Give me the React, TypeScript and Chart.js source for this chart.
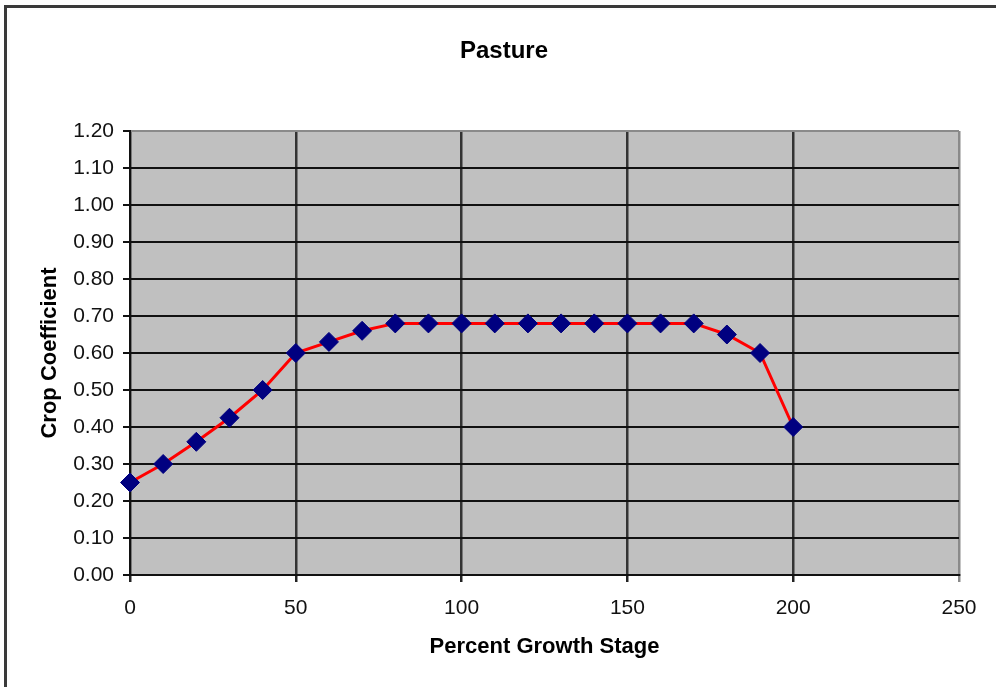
import React, { useEffect, useRef } from "react";
import { Chart, registerables } from "chart.js";

Chart.register(...registerables);

const growthStage: number[] = [0, 10, 20, 30, 40, 50, 60, 70, 80, 90, 100, 110, 120, 130, 140, 150, 160, 170, 180, 190, 200];
const cropCoefficient: number[] = [0.25, 0.30, 0.36, 0.425, 0.50, 0.60, 0.63, 0.66, 0.68, 0.68, 0.68, 0.68, 0.68, 0.68, 0.68, 0.68, 0.68, 0.68, 0.65, 0.60, 0.40];
const xTicks: number[] = [0, 50, 100, 150, 200, 250];
const yTicks: number[] = [0, 0.1, 0.2, 0.3, 0.4, 0.5, 0.6, 0.7, 0.8, 0.9, 1.0, 1.1, 1.2];
const chartTitle = "Pasture";
const xTitle = "Percent Growth Stage";
const yTitle = "Crop Coefficient";

const FONT = "Arial, 'Liberation Sans', sans-serif";

const plotBg = {
  id: "plotBg",
  beforeDraw(chart: any) {
    const { ctx, chartArea } = chart;
    ctx.save();
    ctx.fillStyle = "#C0C0C0";
    ctx.fillRect(chartArea.left, chartArea.top, chartArea.right - chartArea.left, chartArea.bottom - chartArea.top);
    ctx.restore();
  },
};

const titlePlugin = {
  id: "centeredTitle",
  afterDraw(chart: any) {
    const { ctx } = chart;
    ctx.save();
    ctx.font = `bold 24px ${FONT}`;
    ctx.fillStyle = "#000";
    ctx.textAlign = "center";
    ctx.textBaseline = "middle";
    ctx.fillText(chartTitle, 504, 51);
    ctx.restore();
  },
};

export default function App() {
  const ref = useRef<HTMLCanvasElement | null>(null);
  useEffect(() => {
    if (!ref.current) return;
    const chart = new Chart(ref.current, {
      type: "line",
      data: {
        datasets: [
          {
            data: growthStage.map((x, i) => ({ x, y: cropCoefficient[i] })),
            borderColor: "#FF0000",
            borderWidth: 3,
            pointStyle: "rectRot",
            pointRadius: 9.5,
            pointBackgroundColor: "#000080",
            pointBorderColor: "#000080",
            pointBorderWidth: 1,
            tension: 0,
            clip: false,
          } as any,
        ],
      },
      options: {
        animation: false,
        responsive: false,
        maintainAspectRatio: false,
        layout: { padding: { left: 0, right: 37, top: 131, bottom: 0 } },
        plugins: {
          legend: { display: false },
          tooltip: { enabled: false },
          title: { display: false },
        },
        scales: {
          x: {
            type: "linear",
            min: 0,
            max: 250,
            afterBuildTicks: (s: any) => {
              s.ticks = xTicks.map((v) => ({ value: v }));
            },
            afterFit: (s: any) => {
              s.height = 112;
            },
            border: { display: true, color: "#111", width: 2 },
            grid: {
              color: (c: any) => (c.tick && c.tick.value === 250 ? "#8a8a8a" : "#333"),
              lineWidth: 2.5,
              tickLength: 7,
              tickColor: (c: any) => (c.tick && c.tick.value === 250 ? "#8a8a8a" : "#222"),
              drawTicks: true,
            },
            ticks: {
              color: "#111",
              font: { family: FONT, size: 21 },
              padding: 14,
              maxRotation: 0,
              callback: (v: any) => String(v),
            },
            title: {
              display: true,
              text: xTitle,
              color: "#000",
              font: { family: FONT, size: 22, weight: "bold" },
              padding: { top: 0, bottom: 27 },
            },
          },
          y: {
            type: "linear",
            min: 0,
            max: 1.2,
            afterBuildTicks: (s: any) => {
              s.ticks = yTicks.map((v) => ({ value: v }));
            },
            afterFit: (s: any) => {
              s.width = 130;
            },
            border: { display: true, color: "#111", width: 2 },
            grid: {
              color: (c: any) => (c.tick && Math.abs(c.tick.value - 1.2) < 1e-6 ? "#8a8a8a" : "#111"),
              lineWidth: 2,
              tickLength: 7,
              tickColor: "#111",
              drawTicks: true,
            },
            ticks: {
              color: "#111",
              font: { family: FONT, size: 21 },
              padding: 9,
              callback: (v: any) => Number(v).toFixed(2),
            },
            title: {
              display: true,
              text: yTitle,
              color: "#000",
              font: { family: FONT, size: 22, weight: "bold" },
              padding: { top: 37, bottom: 0 },
            },
          },
        },
      },
      plugins: [plotBg, titlePlugin],
    });
    return () => chart.destroy();
  }, []);

  return (
    <div style={{ position: "absolute", left: 0, top: 0, width: 996, height: 687, background: "#fff", overflow: "hidden" }}>
      <canvas ref={ref} width={996} height={687} style={{ position: "absolute", left: 0, top: 0, width: 996, height: 687 }} />
      <div
        style={{
          position: "absolute",
          left: 4,
          top: 5,
          width: 1100,
          height: 679,
          borderLeft: "3px solid #3a3a3a",
          borderTop: "3px solid #3a3a3a",
          borderBottom: "1px solid #e8e8e8",
          pointerEvents: "none",
        }}
      />
    </div>
  );
}
